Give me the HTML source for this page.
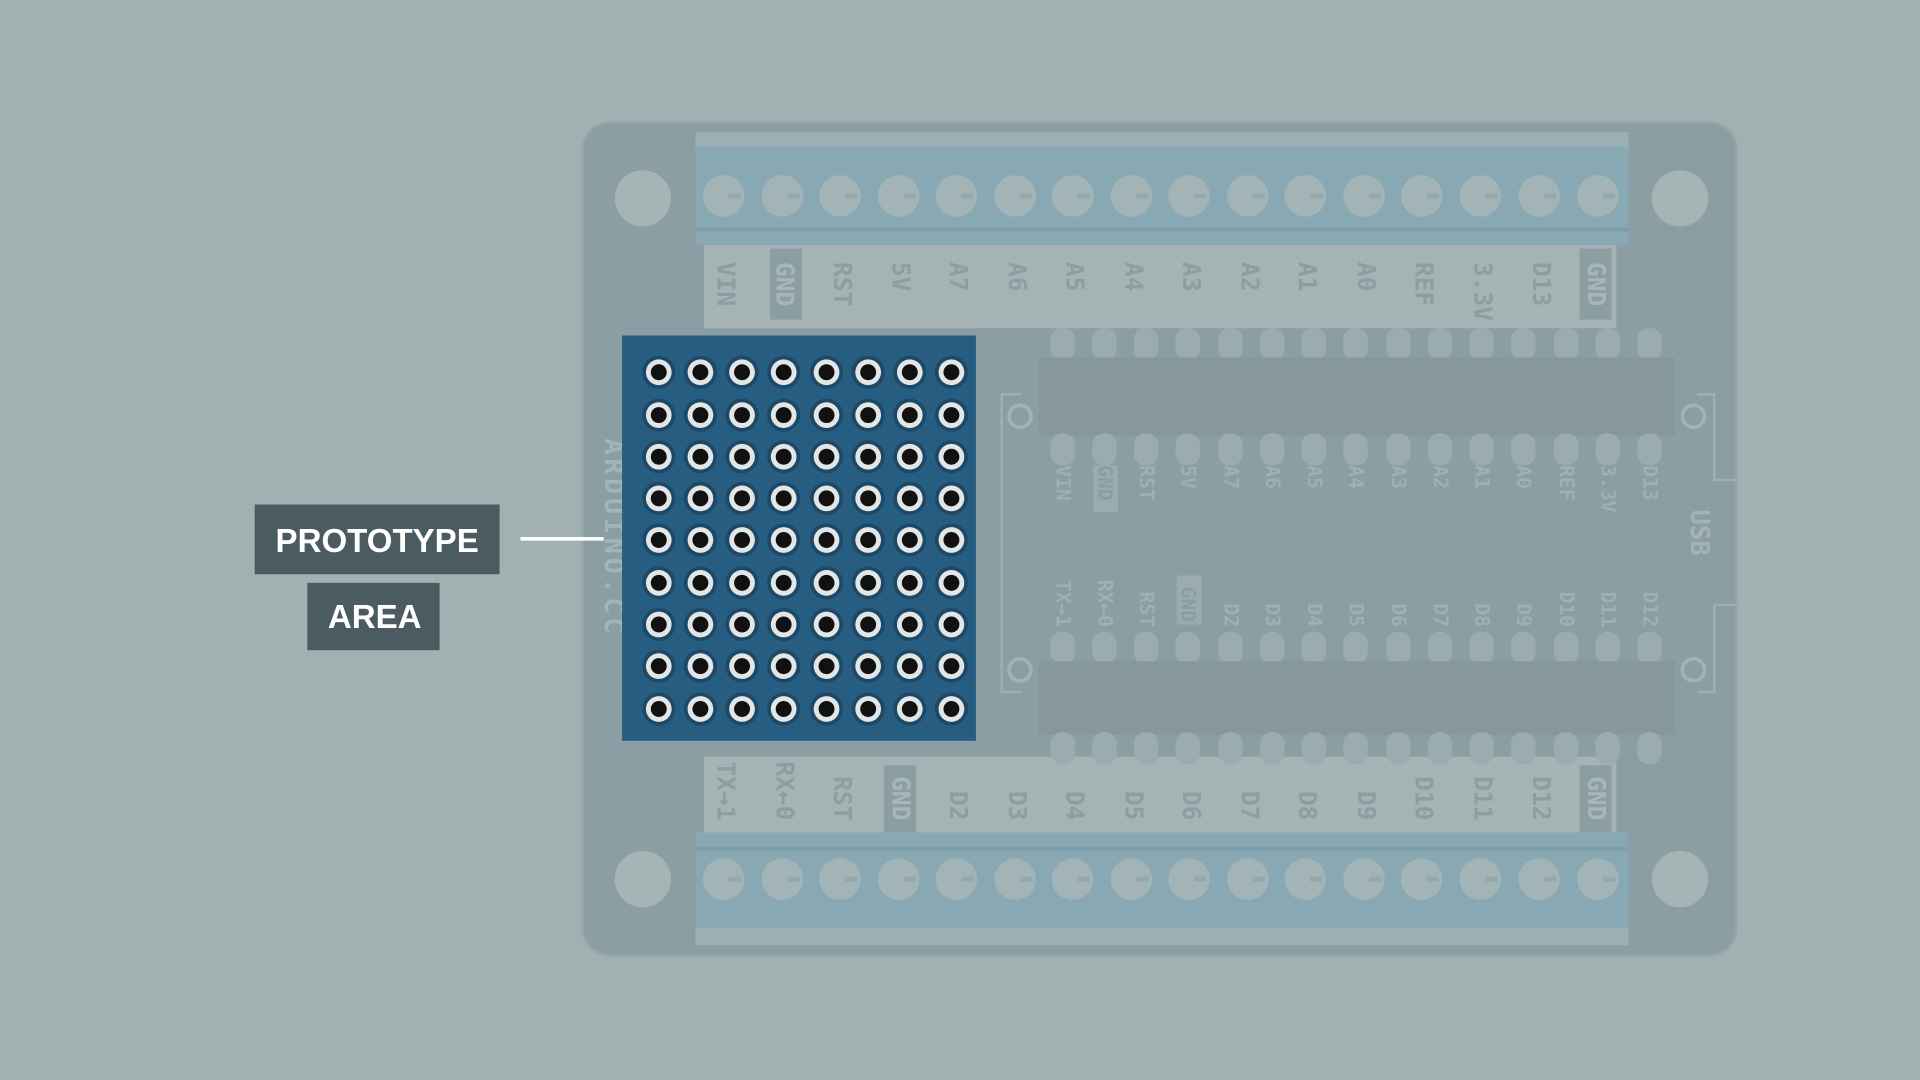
<!DOCTYPE html>
<html><head><meta charset="utf-8"><style>
html,body{margin:0;padding:0;background:#a1b0b0;overflow:hidden}
svg{display:block}
.m{font-family:"DejaVu Sans Mono","Liberation Mono",monospace;font-weight:bold}
</style></head><body>
<svg width="1920" height="1080" viewBox="0 0 1568 882" xmlns="http://www.w3.org/2000/svg">
<defs>
<g id="h"><circle r="13.5" fill="#1d4866"/><circle r="10.5" fill="#e2e6e6"/><circle r="6.5" fill="#111"/></g>
<g id="s"><circle r="17" fill="#a3b4b6"/><rect x="4" y="-2" width="10" height="4" fill="#95a8ac"/></g>
<g id="pt"><rect x="-10" y="-24" width="20" height="26" rx="9" fill="#9aacb0"/></g>
<g id="pb"><rect x="-10" y="-2" width="20" height="26" rx="9" fill="#9aacb0"/></g>
<g id="row"><use href="#h" x="538"/><use href="#h" x="572"/><use href="#h" x="606"/><use href="#h" x="640"/><use href="#h" x="675"/><use href="#h" x="709"/><use href="#h" x="743"/><use href="#h" x="777"/></g>
<g id="srow"><use href="#s" x="591"/><use href="#s" x="639"/><use href="#s" x="686"/><use href="#s" x="734"/><use href="#s" x="781"/><use href="#s" x="829"/><use href="#s" x="876"/><use href="#s" x="924"/><use href="#s" x="971"/><use href="#s" x="1019"/><use href="#s" x="1066"/><use href="#s" x="1114"/><use href="#s" x="1161"/><use href="#s" x="1209"/><use href="#s" x="1257"/><use href="#s" x="1305"/></g>
<g id="ptr"><use href="#pt" x="868"/><use href="#pt" x="902"/><use href="#pt" x="936"/><use href="#pt" x="970"/><use href="#pt" x="1005"/><use href="#pt" x="1039"/><use href="#pt" x="1073"/><use href="#pt" x="1107"/><use href="#pt" x="1142"/><use href="#pt" x="1176"/><use href="#pt" x="1210"/><use href="#pt" x="1244"/><use href="#pt" x="1279"/><use href="#pt" x="1313"/><use href="#pt" x="1347"/></g>
<g id="pbr"><use href="#pb" x="868"/><use href="#pb" x="902"/><use href="#pb" x="936"/><use href="#pb" x="970"/><use href="#pb" x="1005"/><use href="#pb" x="1039"/><use href="#pb" x="1073"/><use href="#pb" x="1107"/><use href="#pb" x="1142"/><use href="#pb" x="1176"/><use href="#pb" x="1210"/><use href="#pb" x="1244"/><use href="#pb" x="1279"/><use href="#pb" x="1313"/><use href="#pb" x="1347"/></g>
</defs>
<rect width="1568" height="882" fill="#a1b0b0"/>
<rect x="476" y="100" width="942" height="680" rx="22" fill="#8b9ea3" stroke="#95a6aa" stroke-width="2"/>
<circle cx="525" cy="162" r="23" fill="#a6b4b6"/><circle cx="1372" cy="162" r="23" fill="#a6b4b6"/>
<circle cx="525" cy="718" r="23" fill="#a6b4b6"/><circle cx="1372" cy="718" r="23" fill="#a6b4b6"/>
<rect x="568" y="108" width="762" height="14" fill="#9cb1b5"/>
<rect x="568" y="120" width="762" height="80" fill="#88a8b3"/>
<rect x="568" y="186" width="762" height="3" fill="#7e9da6"/>
<use href="#srow" y="160"/>
<rect x="575" y="200" width="745" height="68" fill="#a5b3b4"/>
<rect x="629" y="203" width="26" height="58" fill="#8a9ea3"/><rect x="1290" y="203" width="26" height="58" fill="#8a9ea3"/>
<g class="m" font-size="20" fill="#8c9ea2">
<text transform="translate(586,214) rotate(90)">VIN</text>
<text transform="translate(634,214) rotate(90)" fill="#a8b6b8">GND</text>
<text transform="translate(681,214) rotate(90)">RST</text>
<text transform="translate(729,214) rotate(90)">5V</text>
<text transform="translate(776,214) rotate(90)">A7</text>
<text transform="translate(824,214) rotate(90)">A6</text>
<text transform="translate(871,214) rotate(90)">A5</text>
<text transform="translate(919,214) rotate(90)">A4</text>
<text transform="translate(966,214) rotate(90)">A3</text>
<text transform="translate(1014,214) rotate(90)">A2</text>
<text transform="translate(1061,214) rotate(90)">A1</text>
<text transform="translate(1109,214) rotate(90)">A0</text>
<text transform="translate(1156,214) rotate(90)">REF</text>
<text transform="translate(1204,214) rotate(90)">3.3V</text>
<text transform="translate(1252,214) rotate(90)">D13</text>
<text transform="translate(1297,214) rotate(90)" fill="#a8b6b8">GND</text>
</g>
<rect x="575" y="618" width="745" height="62" fill="#a5b3b4"/>
<rect x="722" y="625" width="26" height="55" fill="#8a9ea3"/><rect x="1290" y="625" width="26" height="55" fill="#8a9ea3"/>
<g class="m" font-size="20" fill="#8c9ea2" text-anchor="end">
<text transform="translate(586,670) rotate(90)">TX→1</text>
<text transform="translate(634,670) rotate(90)">RX←0</text>
<text transform="translate(681,670) rotate(90)">RST</text>
<text transform="translate(729,670) rotate(90)" fill="#a8b6b8">GND</text>
<text transform="translate(776,670) rotate(90)">D2</text>
<text transform="translate(824,670) rotate(90)">D3</text>
<text transform="translate(871,670) rotate(90)">D4</text>
<text transform="translate(919,670) rotate(90)">D5</text>
<text transform="translate(966,670) rotate(90)">D6</text>
<text transform="translate(1014,670) rotate(90)">D7</text>
<text transform="translate(1061,670) rotate(90)">D8</text>
<text transform="translate(1109,670) rotate(90)">D9</text>
<text transform="translate(1156,670) rotate(90)">D10</text>
<text transform="translate(1204,670) rotate(90)">D11</text>
<text transform="translate(1252,670) rotate(90)">D12</text>
<text transform="translate(1297,670) rotate(90)" fill="#a8b6b8">GND</text>
</g>
<rect x="568" y="680" width="762" height="78" fill="#88a8b3"/>
<rect x="568" y="692" width="762" height="3" fill="#7e9da6"/>
<rect x="568" y="758" width="762" height="14" fill="#9cb1b5"/>
<use href="#srow" y="718"/>
<g fill="none" stroke="#9fb0b3" stroke-width="2">
<path d="M834 322 H818 V565 H834"/>
<path d="M1386 322 H1400 V392 H1418"/>
<path d="M1386 565 H1400 V494 H1418"/>
</g>
<circle cx="833" cy="340" r="9" fill="#8b9ea3" stroke="#a2b2b5" stroke-width="3"/>
<circle cx="833" cy="547" r="9" fill="#8b9ea3" stroke="#a2b2b5" stroke-width="3"/>
<circle cx="1383" cy="340" r="9" fill="#8b9ea3" stroke="#a2b2b5" stroke-width="3"/>
<circle cx="1383" cy="547" r="9" fill="#8b9ea3" stroke="#a2b2b5" stroke-width="3"/>
<text class="m" font-size="21" fill="#a3b3b6" transform="translate(1381,416) rotate(90)">USB</text>
<use href="#ptr" y="292"/>
<rect x="848" y="292" width="520" height="64" fill="#86989c"/>
<use href="#pbr" y="356"/>
<use href="#ptr" y="540"/>
<rect x="848" y="540" width="520" height="60" fill="#86989c"/>
<use href="#pbr" y="600"/>
<rect x="893" y="380" width="20" height="38" fill="#9aacb0"/>
<rect x="961" y="470" width="20" height="40" fill="#9aacb0"/>
<g class="m" font-size="16" fill="#9eb0b4">
<text transform="translate(863,380) rotate(90)">VIN</text>
<text transform="translate(897,380) rotate(90)" fill="#8a9ea2">GND</text>
<text transform="translate(931,380) rotate(90)">RST</text>
<text transform="translate(965,380) rotate(90)">5V</text>
<text transform="translate(1000,380) rotate(90)">A7</text>
<text transform="translate(1034,380) rotate(90)">A6</text>
<text transform="translate(1068,380) rotate(90)">A5</text>
<text transform="translate(1102,380) rotate(90)">A4</text>
<text transform="translate(1137,380) rotate(90)">A3</text>
<text transform="translate(1171,380) rotate(90)">A2</text>
<text transform="translate(1205,380) rotate(90)">A1</text>
<text transform="translate(1239,380) rotate(90)">A0</text>
<text transform="translate(1274,380) rotate(90)">REF</text>
<text transform="translate(1308,380) rotate(90)">3.3V</text>
<text transform="translate(1342,380) rotate(90)">D13</text>
</g>
<g class="m" font-size="16" fill="#9eb0b4" text-anchor="end">
<text transform="translate(863,512) rotate(90)">TX→1</text>
<text transform="translate(897,512) rotate(90)">RX←0</text>
<text transform="translate(931,512) rotate(90)">RST</text>
<text transform="translate(965,508) rotate(90)" fill="#8a9ea2">GND</text>
<text transform="translate(1000,512) rotate(90)">D2</text>
<text transform="translate(1034,512) rotate(90)">D3</text>
<text transform="translate(1068,512) rotate(90)">D4</text>
<text transform="translate(1102,512) rotate(90)">D5</text>
<text transform="translate(1137,512) rotate(90)">D6</text>
<text transform="translate(1171,512) rotate(90)">D7</text>
<text transform="translate(1205,512) rotate(90)">D8</text>
<text transform="translate(1239,512) rotate(90)">D9</text>
<text transform="translate(1274,512) rotate(90)">D10</text>
<text transform="translate(1308,512) rotate(90)">D11</text>
<text transform="translate(1342,512) rotate(90)">D12</text>
</g>
<text class="m" font-size="22" letter-spacing="3" fill="#a3b4b8" transform="translate(494,358) rotate(90)">ARDUINO.CC</text>
<rect x="508" y="274" width="289" height="331" fill="#275d81"/>
<use href="#row" y="304"/><use href="#row" y="339"/><use href="#row" y="373"/>
<use href="#row" y="407"/><use href="#row" y="441"/><use href="#row" y="476"/>
<use href="#row" y="510"/><use href="#row" y="544"/><use href="#row" y="579"/>
<rect x="208" y="412" width="200" height="57" fill="#4b5b61"/>
<rect x="251" y="476" width="108" height="55" fill="#4b5b61"/>
<g font-family="'Liberation Sans',sans-serif" font-weight="bold" font-size="27" fill="#fff" text-anchor="middle">
<text x="308" y="451">PROTOTYPE</text>
<text x="306" y="513">AREA</text>
</g>
<line x1="425" y1="440" x2="493" y2="440" stroke="#fff" stroke-width="3"/>
</svg>
</body></html>
